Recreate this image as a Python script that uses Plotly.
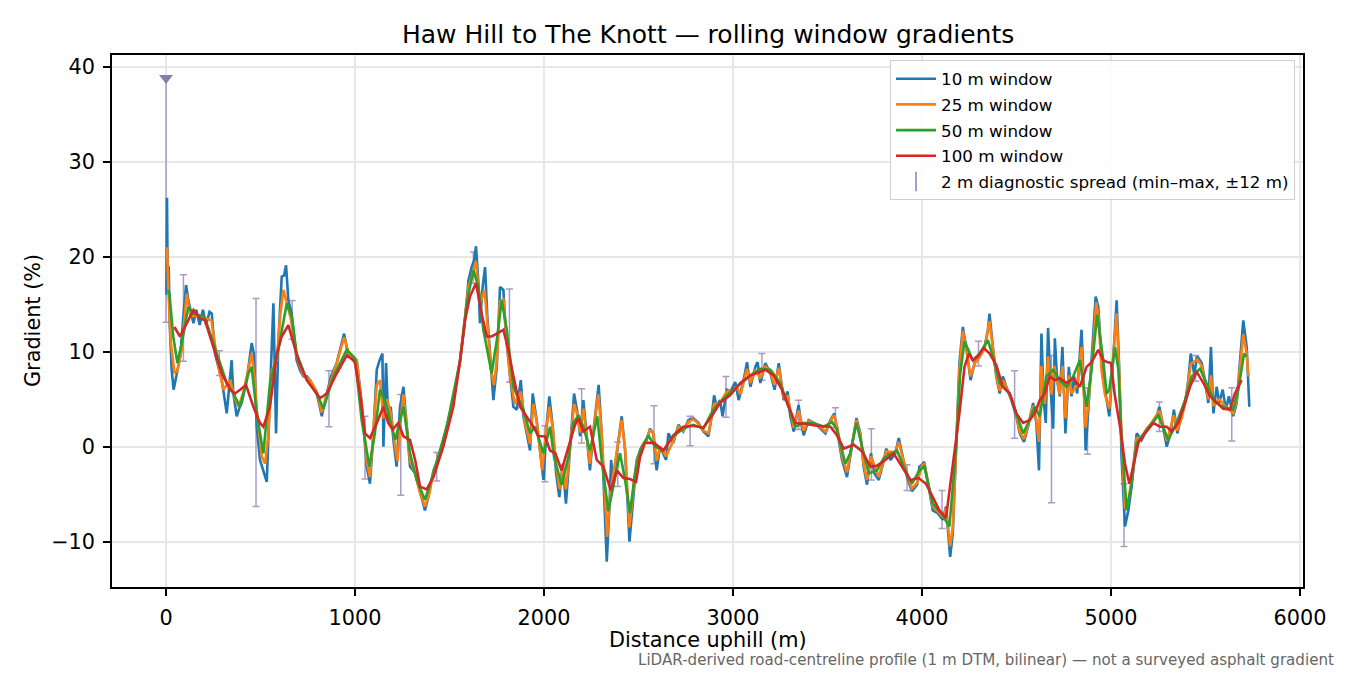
import plotly.graph_objects as go

# ---- data (distance uphill in m, gradient in %) ----
w10 = [(2, 16), (5, 26.2), (9, 16.5), (14, 19), (20, 12.6), (30, 8), (40, 6), (55, 7.5), (75, 9.5), (90, 13.3),
       (106, 17), (118, 15.4), (145, 13), (160, 14.4), (178, 12.8), (195, 14.4), (212, 12.8), (230, 14.2), (242, 14),
       (259, 9.8), (277, 8.4), (295, 7), (310, 5), (321, 3.5), (335, 6.5), (347, 9.1), (356, 5.6), (374, 3.2), (390, 4.2),
       (400, 4.6), (427, 7), (445, 9.5), (453, 10.9), (465, 9.8), (480, 2.1), (497, -1.4), (515, -2.5), (533, -3.7),
       (550, 5.6), (568, 15.1), (582, 1.4), (594, 10.9), (612, 17.9), (624, 18), (635, 19.1), (647, 15.4), (665, 14),
       (691, 9.1), (710, 8), (727, 7.4), (745, 7.4), (762, 7), (780, 6.3), (797, 5.6), (810, 4.5), (824, 3.2), (850, 5.6),
       (875, 7.5), (903, 8.8), (925, 10.5), (942, 11.9), (965, 9.5), (974, 9.5), (1009, 9.1), (1035, 4.6), (1062, -2.1),
       (1079, -3.9), (1097, 1.4), (1115, 8.1), (1130, 9.1), (1145, 9.8), (1150, 0), (1164, 8.8), (1176, 2.8), (1189, 4.2),
       (1203, 0.7), (1220, -2.1), (1238, 4.2), (1256, 6.3), (1274, 2.1), (1291, -2.1), (1318, -2.8), (1344, -4.9),
       (1370, -6.7), (1388, -5.3), (1415, -2.5), (1450, -0.7), (1485, 2.1), (1520, 4.9), (1556, 9.1), (1582, 13.3),
       (1600, 17.5), (1617, 18.9), (1630, 19.6), (1640, 21.1), (1653, 17.2), (1661, 13), (1675, 16.8), (1688, 18.9),
       (1700, 13.7), (1714, 9.8), (1732, 4.9), (1750, 8.4), (1767, 16.8), (1785, 16.5), (1799, 11.6), (1817, 8.1),
       (1838, 4.2), (1856, 3.9), (1877, 7), (1891, 3.2), (1908, 1.4), (1926, -0.4), (1940, 5.6), (1961, 2.8),
       (1979, -0.4), (1997, -3.5), (2015, 2.5), (2028, 5.3), (2046, 2.1), (2064, -2.8), (2081, -5.3), (2099, -1.8),
       (2116, -6), (2138, -0.4), (2159, 5.6), (2177, 3.5), (2191, 1.1), (2208, 4.9), (2226, 0.7), (2243, -2.5),
       (2264, 2.1), (2289, 6.5), (2305, 1.4), (2318, -5.6), (2332, -12.1), (2346, -6.3), (2355, -1.4), (2367, -4.2),
       (2385, -0.7), (2411, 3.2), (2429, -0.4), (2452, -10), (2470, -5.6), (2490, -1.4), (2517, 0), (2543, 0.7),
       (2561, 1.9), (2578, 1.4), (2596, -2.5), (2614, 0), (2646, -1.4), (2658, 1.4), (2684, 0.4), (2711, 2.3),
       (2737, 1.6), (2764, 2.8), (2790, 3), (2817, 2.5), (2843, 1.6), (2870, 1.1), (2887, 3.2), (2900, 5.4),
       (2914, 4.2), (2931, 4.9), (2945, 3.2), (2967, 6), (2986, 5.8), (3012, 6.8), (3030, 4.9), (3056, 7), (3074, 8.9),
       (3092, 6.3), (3118, 8.4), (3130, 8.9), (3145, 6.7), (3171, 8.8), (3198, 7.7), (3220, 6), (3242, 8.8),
       (3259, 6.3), (3268, 4.9), (3289, 5.8), (3303, 3.2), (3321, 1.6), (3347, 4.4), (3360, 2.5), (3374, 1.2),
       (3400, 2.8), (3427, 2.5), (3453, 2.1), (3489, 1.4), (3515, 2.8), (3536, 3.5), (3550, 1.8), (3577, -1.4),
       (3603, -3.2), (3630, 0), (3653, 3), (3674, 1.4), (3691, -2.1), (3709, -4), (3730, -0.7), (3748, -2.8),
       (3771, -3.5), (3794, -1.8), (3811, -0.2), (3833, -1.4), (3859, -0.7), (3877, 0.9), (3894, -0.7), (3921, -3.2),
       (3947, -4.7), (3974, -4), (3986, -2.1), (4000, -1.9), (4012, -1.6), (4030, -3.5), (4057, -6.7), (4083, -7),
       (4110, -7.7), (4127, -6.3), (4142, -10.5), (4149, -11.6), (4163, -9.1), (4181, 0), (4198, 8.8), (4216, 12.6),
       (4234, 10.5), (4257, 7), (4278, 8.8), (4304, 9.5), (4331, 10.5), (4349, 12.3), (4357, 14), (4375, 10.5),
       (4393, 7.4), (4411, 5.6), (4428, 7.4), (4446, 6.3), (4473, 4.9), (4499, 3.2), (4517, 1.4), (4540, 0.5),
       (4561, 2.1), (4588, 4.6), (4605, 2.5), (4619, -2.5), (4632, 11.9), (4644, 4.9), (4655, 2.5), (4667, 12.5),
       (4681, 6), (4694, 1.9), (4703, 11.4), (4715, 7), (4729, 5.3), (4743, 10.5), (4759, 1.4), (4777, 8.4),
       (4791, 5.3), (4805, 7.4), (4821, 5.6), (4844, 12.3), (4857, 6), (4866, -0.4), (4880, 4.2), (4892, 7),
       (4906, 12.6), (4919, 15.8), (4933, 14.7), (4950, 9), (4968, 6), (4991, 3.2), (5012, 9.3), (5030, 15.4),
       (5043, 8.5), (5056, -1.1), (5074, -8.4), (5092, -6.7), (5109, -4.2), (5136, 1.4), (5162, 0.7), (5189, 1.8),
       (5215, 2.5), (5242, 3.2), (5256, 4.2), (5277, 2.1), (5295, 0), (5315, 1.4), (5333, 3.9), (5351, 1.4),
       (5374, 3.2), (5397, 5.3), (5409, 7), (5422, 9.8), (5440, 7.7), (5457, 9.5), (5480, 8.8), (5497, 7),
       (5515, 4.6), (5529, 10.5), (5542, 3.5), (5559, 6.3), (5573, 4.6), (5591, 6), (5608, 3.9), (5624, 5.3),
       (5647, 3.2), (5665, 4.6), (5683, 9.1), (5700, 13.3), (5718, 10.5), (5732, 4.2)]

w25 = [(5, 21), (12, 16.5), (25, 11), (45, 7.7), (60, 8), (83, 10.2), (109, 16.1), (130, 13.7), (160, 13.8),
       (200, 13.6), (240, 13.3), (268, 9.5), (303, 6), (339, 7), (365, 5), (383, 4.2), (410, 5.8), (440, 8.5),
       (453, 9.8), (470, 7), (480, 3.9), (506, -1), (524, -1.8), (540, 1), (560, 8), (586, 9.1), (605, 14),
       (621, 16.5), (640, 15), (660, 13.5), (691, 9.5), (727, 7.5), (762, 7), (797, 5.8), (824, 3.6), (850, 5.5),
       (903, 8.8), (942, 11.5), (970, 9.6), (1009, 9.1), (1035, 4.5), (1062, -1.5), (1079, -3.2), (1097, 1.5),
       (1115, 6.5), (1132, 7), (1150, 3), (1170, 5), (1189, 3.5), (1212, 0), (1225, -1.5), (1245, 3.5), (1256, 5.5),
       (1274, 2), (1291, -1.5), (1318, -2.8), (1344, -4.9), (1370, -6.3), (1392, -5), (1415, -2.6), (1450, -0.7),
       (1485, 2.1), (1520, 4.9), (1556, 9.1), (1582, 13.3), (1600, 16.8), (1625, 18.5), (1640, 19.5), (1660, 15),
       (1685, 16.5), (1700, 13), (1720, 8), (1735, 6.5), (1750, 9), (1767, 15.3), (1785, 15.5), (1803, 11),
       (1820, 7.5), (1845, 4.5), (1877, 5.8), (1900, 2.5), (1926, 0.3), (1944, 4.5), (1962, 2.5), (1990, -2.5),
       (2010, 1.5), (2028, 4.2), (2046, 2), (2064, -2), (2083, -4.5), (2100, -2), (2116, -4.5), (2138, 0),
       (2159, 4.5), (2177, 3.3), (2191, 1.5), (2208, 4), (2226, 1), (2243, -1.8), (2264, 2), (2287, 5.5),
       (2305, 1.5), (2318, -4), (2334, -9.5), (2350, -5), (2365, -3), (2385, -0.5), (2411, 2.8), (2430, -0.5),
       (2452, -8.5), (2470, -5), (2490, -1.5), (2517, 0), (2543, 0.8), (2561, 1.8), (2580, 1.3), (2596, -1.5),
       (2614, 0), (2646, -1), (2684, 0.6), (2711, 2.1), (2737, 1.7), (2764, 2.6), (2790, 2.9), (2817, 2.4),
       (2843, 1.7), (2870, 1.4), (2900, 4.5), (2931, 4.6), (2967, 5.8), (2995, 5.8), (3020, 6.3), (3040, 5.5),
       (3074, 8.2), (3092, 6.7), (3118, 8.1), (3145, 7.2), (3171, 8.5), (3198, 7.8), (3220, 6.5), (3242, 8.3),
       (3268, 5.2), (3289, 5.3), (3321, 2), (3347, 3.8), (3374, 1.7), (3400, 2.7), (3427, 2.5), (3453, 2.2),
       (3489, 1.6), (3515, 2.7), (3536, 3.3), (3555, 1.7), (3577, -1), (3603, -2.7), (3630, 0.2), (3653, 2.8),
       (3674, 1.2), (3691, -1.8), (3709, -3.5), (3730, -1), (3771, -3.2), (3811, -0.5), (3859, -0.6), (3877, 0.5),
       (3921, -2.9), (3947, -4.4), (3974, -3.8), (4000, -2), (4012, -1.8), (4057, -6.3), (4083, -6.8), (4110, -7.4),
       (4127, -6.5), (4149, -10.5), (4163, -8.5), (4181, 0), (4198, 8), (4216, 12.2), (4234, 10.3), (4257, 7.4),
       (4278, 8.7), (4304, 9.4), (4331, 10.3), (4357, 13.2), (4375, 10.5), (4393, 7.6), (4411, 5.9), (4428, 7),
       (4473, 5.1), (4499, 3.4), (4517, 1.6), (4540, 0.8), (4561, 2.2), (4588, 4.3), (4605, 2.8), (4619, 0.5),
       (4632, 8.5), (4650, 4.5), (4667, 9.5), (4685, 5.5), (4700, 8.5), (4715, 6.8), (4729, 5.5), (4743, 8.5),
       (4759, 3), (4777, 7.5), (4791, 5.6), (4821, 6.5), (4844, 10.5), (4866, 2), (4880, 4.5), (4906, 10.5),
       (4922, 15.2), (4935, 13.5), (4950, 8), (4968, 5.5), (4991, 4), (5012, 9.5), (5030, 14), (5045, 7),
       (5056, 1), (5074, -6.5), (5090, -6), (5109, -3.5), (5136, 0.9), (5162, 1), (5189, 1.9), (5215, 2.5),
       (5256, 3.8), (5277, 2.3), (5295, 0.6), (5333, 3.3), (5351, 1.7), (5374, 3), (5397, 5), (5422, 8.7),
       (5457, 9.2), (5480, 8.5), (5497, 7), (5515, 5), (5529, 7.5), (5542, 4.3), (5573, 5), (5608, 4.2),
       (5647, 3.5), (5665, 4.8), (5683, 8.5), (5700, 11.8), (5718, 9.8), (5727, 7.4)]

w50 = [(12, 16.5), (18, 16.1), (38, 11.6), (60, 8.8), (83, 10.9), (118, 14.7), (145, 14), (200, 13.7), (215, 13),
       (268, 9.8), (321, 6.7), (356, 5.6), (392, 4.2), (436, 7.7), (453, 8.4), (480, 3.5), (515, -0.7), (550, 6.7),
       (594, 10.2), (639, 15.1), (665, 13.7), (691, 9.8), (745, 7), (797, 5.6), (833, 4), (886, 7.4), (956, 10.2),
       (1000, 9.3), (1035, 2.8), (1076, -2.1), (1105, 1.4), (1132, 6), (1158, 4.9), (1185, 2.8), (1212, 0.7),
       (1256, 4.2), (1291, -0.7), (1326, -3.5), (1370, -5.6), (1415, -2.8), (1485, 2.1), (1556, 9.1), (1591, 15.1),
       (1626, 18.6), (1653, 16.8), (1679, 12.3), (1723, 7.7), (1750, 11.2), (1776, 15.4), (1803, 12.3), (1838, 6.3),
       (1891, 3.9), (1926, 1.4), (1952, 2.1), (1997, -0.7), (2032, 2.1), (2053, -1.1), (2093, -4), (2129, -1.1),
       (2155, 2.5), (2182, 3.3), (2208, 2.1), (2243, -0.4), (2282, 3.2), (2305, -1.4), (2340, -6.8), (2367, -4.2),
       (2402, -0.7), (2429, -3.5), (2455, -7), (2481, -2.8), (2508, -0.4), (2552, 1.2), (2587, 0), (2632, -0.4),
       (2684, 1.1), (2737, 1.9), (2790, 2.3), (2843, 1.9), (2896, 3.9), (2967, 5.4), (3039, 6.6), (3092, 7.5),
       (3145, 8.2), (3198, 8.1), (3250, 6.7), (3303, 3.5), (3330, 2.1), (3374, 2.5), (3427, 2.5), (3480, 2.1),
       (3524, 2.6), (3550, 1.8), (3594, -1.8), (3620, -0.7), (3653, 2.5), (3683, 0), (3718, -2.8), (3762, -2.5),
       (3797, -1.2), (3868, -0.4), (3903, -2.1), (3947, -3.9), (3986, -2.5), (4012, -2.1), (4057, -6), (4101, -7),
       (4145, -8.4), (4181, 0), (4202, 7.7), (4225, 11.1), (4269, 9.1), (4304, 9.8), (4349, 11.2), (4375, 9.5),
       (4411, 6.7), (4464, 5.6), (4499, 3.5), (4535, 1.4), (4570, 2.8), (4596, 4.2), (4623, 3.2), (4658, 7.4),
       (4694, 8.1), (4729, 7), (4765, 6.3), (4800, 7.4), (4835, 9.1), (4871, 4.2), (4897, 8.1), (4927, 13.9),
       (4959, 9.1), (4977, 5.6), (4991, 6), (5021, 10.5), (5039, 8.1), (5056, 1.1), (5083, -6.7), (5109, -3.9),
       (5136, 0.4), (5189, 1.8), (5250, 3.3), (5303, 0.7), (5347, 2.5), (5392, 4.9), (5427, 7.4), (5471, 8.2),
       (5506, 6.7), (5550, 4.7), (5594, 4.2), (5647, 3.9), (5674, 6), (5704, 9.8), (5718, 9.5)]

w100 = [(44, 12.6), (74, 11.6), (100, 12.6), (145, 14.4), (180, 13.5), (206, 13.3), (250, 10.5), (295, 7.7),
        (339, 6), (365, 5.6), (392, 6), (423, 6.5), (462, 4.2), (497, 2.5), (515, 2.1), (550, 4.2), (586, 9.8),
        (612, 11.6), (647, 12.8), (665, 11.6), (700, 9.1), (745, 7), (780, 6), (815, 5.1), (850, 5.6), (903, 7.7),
        (956, 9.6), (991, 9.1), (1000, 8.8), (1026, 5.6), (1053, 1.4), (1079, 0.9), (1115, 2.5), (1150, 4.2),
        (1176, 2.5), (1199, 1.8), (1229, 2.5), (1256, 1.1), (1291, 0.7), (1318, -1.4), (1344, -4.2), (1379, -4.5),
        (1415, -3.2), (1467, 0), (1520, 4.2), (1556, 9.1), (1582, 13.3), (1608, 15.8), (1640, 17.2), (1670, 14),
        (1697, 11.6), (1723, 11.6), (1750, 11.9), (1785, 12.3), (1811, 10.2), (1838, 7.4), (1873, 4.2),
        (1908, 3.2), (1944, 2.1), (1970, 1.1), (2005, 1.1), (2032, -0.4), (2060, -0.7), (2093, -2.5), (2138, 0.4),
        (2164, 2.3), (2182, 3), (2208, 1.6), (2243, 2.1), (2279, -1.4), (2314, -2.1), (2353, -4.6), (2385, -2.5),
        (2420, -3.3), (2455, -3.4), (2487, -3.7), (2508, -1.1), (2534, 0.4), (2582, 0.4), (2632, -0.4),
        (2684, 1.2), (2737, 2.1), (2790, 2.2), (2843, 2), (2887, 3.2), (2931, 4.6), (2984, 5.4), (3039, 6.7),
        (3092, 7.5), (3145, 7.9), (3171, 8.1), (3215, 7.5), (3259, 6), (3295, 4.2), (3330, 2.5), (3383, 2.4),
        (3445, 2.2), (3515, 2.1), (3550, 1.2), (3586, -0.2), (3639, 0.2), (3683, -0.5), (3727, -2.1), (3762, -2),
        (3806, -1.4), (3850, -0.7), (3903, -2.3), (3938, -3.5), (3982, -3.3), (4021, -3.9), (4057, -5.3),
        (4092, -6.7), (4127, -7.5), (4163, -2.1), (4198, 3.5), (4225, 8.4), (4248, 9.8), (4269, 9.1), (4296, 9.5),
        (4326, 10.4), (4358, 9.8), (4393, 8.6), (4428, 6.3), (4464, 5.6), (4499, 3.5), (4535, 2.5), (4570, 2.8),
        (4596, 3.5), (4623, 4.9), (4650, 5.6), (4676, 7.4), (4703, 7), (4729, 7.2), (4765, 6.7), (4800, 7.2),
        (4835, 6.3), (4871, 8.4), (4897, 8.9), (4933, 10.2), (4959, 9.1), (4980, 8.9), (5000, 8.8), (5021, 5.3),
        (5048, 2.1), (5074, -1.8), (5097, -3.9), (5118, -2.1), (5145, 0.4), (5180, 1.4), (5224, 2.5), (5259, 2.1),
        (5295, 2.1), (5321, 1.6), (5356, 2.5), (5392, 4.6), (5418, 6.3), (5453, 7.9), (5489, 6.7), (5524, 5.3),
        (5559, 4.6), (5594, 4), (5630, 3.9), (5656, 5.6), (5691, 7)]

# 2 m diagnostic spread: position, min, max
spread_d = [0, 92, 282, 476, 667, 862, 1053, 1242, 1432, 1626, 1817, 2005, 2199, 2390, 2582, 2773, 2963,
            3153, 3347, 3542, 3732, 3921, 4106, 4299, 4490, 4685, 4876, 5069, 5256, 5448, 5639]
spread_lo = [13.1, 9.0, 7.5, -6.3, 11.3, 2.1, -3.4, -5.1, -3.6, 17.2, 6.8, -3.7, 0.4, -4.2, -1.8, 0.1, 3.1,
             7.0, 1.8, 2.0, -3.5, -4.6, -8.6, 8.5, 0.9, -5.9, -0.8, -10.5, 1.6, 6.9, 0.6]
spread_hi = [38.8, 18.1, 10.1, 15.6, 15.4, 8.0, 3.2, 5.5, -0.6, 20.5, 16.6, 2.2, 6.1, 0.5, 4.3, 3.2, 7.4,
             9.8, 4.9, 4.1, 1.9, -1.9, -4.6, 11.1, 8.0, 9.6, 6.2, -3.9, 4.7, 9.6, 6.2]
clip_d = [0]
clip_val = [38.8]

series = [("10 m window", w10, "#1f77b4"), ("25 m window", w25, "#ff7f0e"),
          ("50 m window", w50, "#2ca02c"), ("100 m window", w100, "#d62728")]

FONT = "DejaVu Sans"
EB_COL = "#a99bc4"

fig = go.Figure()

# diagnostic spread error bars (behind lines)
fig.add_trace(go.Scatter(
    x=spread_d, y=spread_lo, mode="markers",
    marker=dict(size=1, color="rgba(0,0,0,0)"),
    error_y=dict(type="data", symmetric=False,
                 array=[h - l for h, l in zip(spread_hi, spread_lo)],
                 arrayminus=[0] * len(spread_lo),
                 color=EB_COL, thickness=1.5, width=3.5),
    showlegend=False, hoverinfo="skip"))

for i, (name, pts, col) in enumerate(series):
    xs = [p[0] for p in pts]
    ys = [p[1] for p in pts]
    fig.add_trace(go.Scatter(x=xs, y=ys, mode="lines", name=name,
                             line=dict(color=col, width=2.6),
                             legendgroup="g%d" % i))

fig.add_trace(go.Scatter(x=clip_d, y=clip_val, mode="markers",
                         marker=dict(symbol="triangle-down", size=12, color="#8a7bab"),
                         showlegend=False, hoverinfo="skip"))

# legend entry for spread
fig.add_trace(go.Scatter(x=[None], y=[None], mode="markers",
                         name="2 m diagnostic spread (min–max, ±12 m)",
                         marker=dict(symbol="line-ns-open", size=14, color=EB_COL,
                                     line=dict(width=2, color=EB_COL)),
                         legendgroup="g9"))

axis_common = dict(showline=True, linecolor="black", linewidth=1.5, mirror=True,
                   ticks="outside", ticklen=7, tickwidth=1.5, tickcolor="black",
                   showgrid=True, gridcolor="#e7e7e7", gridwidth=1.5, zeroline=False,
                   tickfont=dict(family=FONT, size=20.8, color="black"))

fig.update_layout(
    width=1350, height=675,
    margin=dict(l=112, r=47, t=55, b=88),
    plot_bgcolor="white", paper_bgcolor="white",
    font=dict(family=FONT, color="black"),
    xaxis=dict(range=[-286, 6016], tickvals=[0, 1000, 2000, 3000, 4000, 5000, 6000],
               ticklabelstandoff=4, **axis_common),
    yaxis=dict(range=[-14.77, 41.23], tickvals=[-10, 0, 10, 20, 30, 40],
               ticktext=["\u221210", "0", "10", "20", "30", "40"],
               ticklabelstandoff=4, **axis_common),
    legend=dict(x=0.9933, y=0.99, xanchor="right", yanchor="top",
                bgcolor="rgba(255,255,255,0.85)", bordercolor="#d0d0d0", borderwidth=1,
                font=dict(family=FONT, size=16.7, color="black"),
                traceorder="grouped", tracegroupgap=1, itemwidth=40),
    showlegend=True,
    annotations=[
        dict(text="Haw Hill to The Knott — rolling window gradients", xref="paper", yref="paper",
             x=0.5, y=1, yanchor="middle", yshift=21, showarrow=False,
             font=dict(family=FONT, size=25, color="black")),
        dict(text="Distance uphill (m)", xref="paper", yref="paper", x=0.5, y=0,
             yanchor="middle", yshift=-53, showarrow=False,
             font=dict(family=FONT, size=20.8, color="black")),
        dict(text="Gradient (%)", xref="paper", yref="paper", x=0, y=0.5,
             xanchor="center", yanchor="middle", xshift=-79, textangle=-90, showarrow=False,
             font=dict(family=FONT, size=20.8, color="black")),
        dict(text="LiDAR-derived road-centreline profile (1 m DTM, bilinear) — not a surveyed asphalt gradient",
             xref="paper", yref="paper", x=1, y=0, xanchor="right", yanchor="middle",
             xshift=33, yshift=-73, showarrow=False,
             font=dict(family=FONT, size=15.1, color="#666666")),
    ],
)

fig.write_html("out.html", config={"displayModeBar": False},
               post_script="document.body.style.margin='0';document.body.style.overflow='hidden';")
